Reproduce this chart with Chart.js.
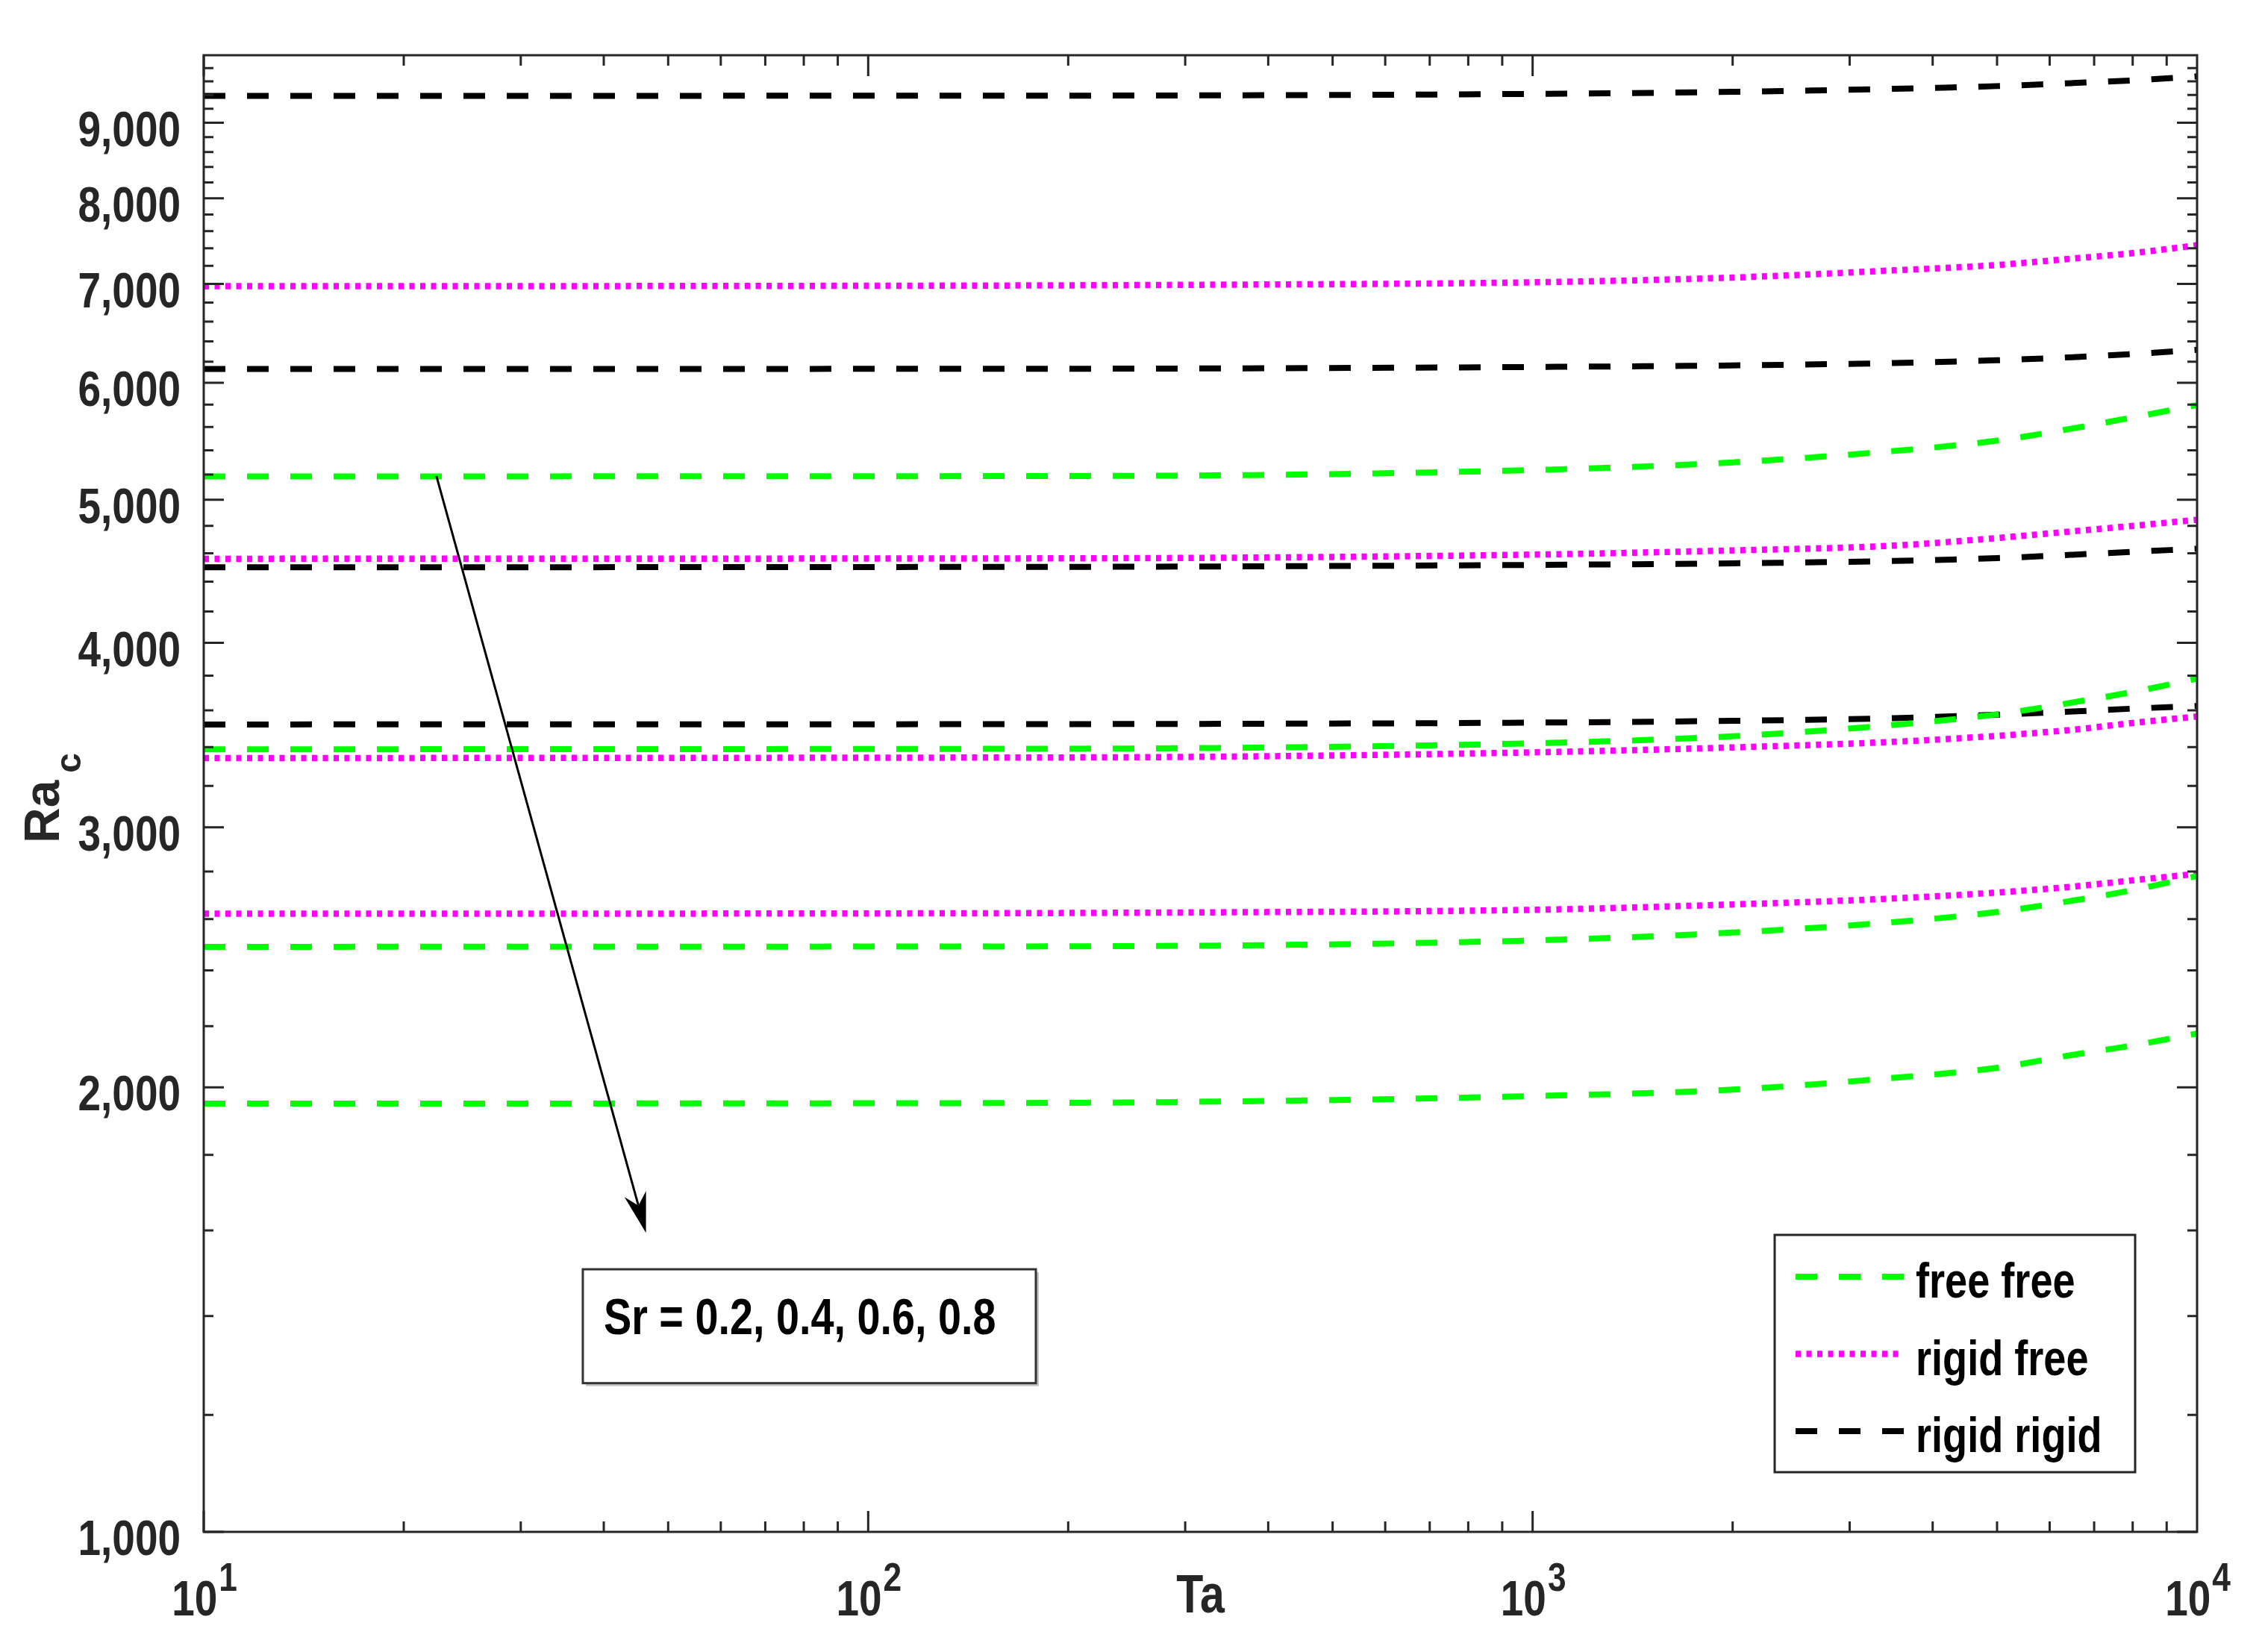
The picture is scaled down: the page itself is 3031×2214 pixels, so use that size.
<!DOCTYPE html>
<html>
<head>
<meta charset="utf-8">
<title>Ra_c vs Ta</title>
<script src="https://cdn.jsdelivr.net/npm/chart.js@4.4.1/dist/chart.umd.min.js"></script>
<style>
  html, body { margin: 0; padding: 0; background: #fff; }
  #wrap { width: 3031px; height: 2214px; }
</style>
</head>
<body>
<div id="wrap"><canvas id="chart" width="3031" height="2214"></canvas></div>
<script>
// Ta sample points (x axis, log)
const taValues = [10, 100, 300, 1000, 2000, 3500, 5000, 6500, 8000, 10000];

// free free boundaries, Sr = 0.2, 0.4, 0.6, 0.8
const freeFree02 = [5185, 5187, 5192, 5237, 5300, 5395, 5483, 5588, 5685, 5795];
const freeFree04 = [3388, 3390, 3394, 3420, 3458, 3520, 3578, 3645, 3705, 3783];
const freeFree06 = [2490, 2491, 2494, 2515, 2546, 2588, 2629, 2676, 2720, 2781];
const freeFree08 = [1950, 1951, 1955, 1973, 1993, 2030, 2062, 2104, 2135, 2175];

// rigid free
const rigidFree02 = [6975, 6980, 6990, 7018, 7070, 7150, 7210, 7283, 7345, 7435];
const rigidFree04 = [4560, 4562, 4566, 4590, 4620, 4655, 4710, 4760, 4800, 4846];
const rigidFree06 = [3342, 3344, 3348, 3372, 3398, 3428, 3460, 3493, 3530, 3566];
const rigidFree08 = [2622, 2623, 2627, 2638, 2660, 2685, 2710, 2735, 2762, 2790];

// rigid rigid
const rigidRigid02 = [9385, 9388, 9392, 9415, 9445, 9490, 9530, 9575, 9615, 9675];
const rigidRigid04 = [6130, 6132, 6135, 6150, 6165, 6188, 6215, 6245, 6275, 6318];
const rigidRigid06 = [4500, 4502, 4505, 4517, 4528, 4545, 4565, 4589, 4610, 4632];
const rigidRigid08 = [3522, 3523, 3525, 3532, 3542, 3557, 3576, 3594, 3610, 3625];

// ticks
const yTickValues = [1000, 2000, 3000, 4000, 5000, 6000, 7000, 8000, 9000];
const yTickLabels = ['1,000', '2,000', '3,000', '4,000', '5,000', '6,000', '7,000', '8,000', '9,000'];
const xTickValues = [10, 100, 1000, 10000];
const xTickBase = '10';
const xTickExponents = ['1', '2', '3', '4'];

// annotation (data units)
const srText = 'Sr = 0.2, 0.4, 0.6, 0.8';
const arrowFrom = { x: 22.4, y: 5187 };
const arrowTo = { x: 46.3, y: 1594 };
const srBox = { x0: 37.2, x1: 178.8, yTop: 1506, yBottom: 1261 };

const AXIS_COLOR = '#262626';
const SX = 0.82; // the original text is squeezed sideways
const font = (size) => 'bold ' + size + 'px "Liberation Sans", Arial, sans-serif';

function textWidth(ctx, text, size) {
    ctx.font = font(size);
    return ctx.measureText(text).width * SX;
}

function drawText(ctx, text, x, y, size, align) {
    ctx.save();
    ctx.font = font(size);
    ctx.textAlign = align || 'left';
    ctx.textBaseline = 'alphabetic';
    ctx.translate(x, y);
    ctx.scale(SX, 1);
    ctx.fillText(text, 0, 0);
    ctx.restore();
}

const GREEN = { borderColor: '#00ff00', borderDash: [29, 29], borderWidth: 8 };
const MAGENTA = { borderColor: '#ff00ff', borderDash: [7, 7.5], borderWidth: 8.5 };
const BLACK = { borderColor: '#000000', borderDash: [29, 29], borderWidth: 8 };

function series(label, values, style) {
    return Object.assign({
        label: label,
        data: taValues.map((t, i) => ({ x: t, y: values[i] })),
        pointRadius: 0,
        fill: false,
        clip: 0,
        cubicInterpolationMode: 'monotone',
        borderCapStyle: 'butt'
    }, style);
}

const datasets = [
    series('free free', freeFree02, GREEN),
    series('free free', freeFree04, GREEN),
    series('free free', freeFree06, GREEN),
    series('free free', freeFree08, GREEN),
    series('rigid free', rigidFree02, MAGENTA),
    series('rigid free', rigidFree04, MAGENTA),
    series('rigid free', rigidFree06, MAGENTA),
    series('rigid free', rigidFree08, MAGENTA),
    series('rigid rigid', rigidRigid02, BLACK),
    series('rigid rigid', rigidRigid04, BLACK),
    series('rigid rigid', rigidRigid06, BLACK),
    series('rigid rigid', rigidRigid08, BLACK)
];

// box + inward tick marks on all four sides
const frameAndTicks = {
    id: 'frameAndTicks',
    afterDatasetsDraw(chart) {
        const { ctx, chartArea: a, scales: { x, y } } = chart;
        ctx.save();
        ctx.strokeStyle = AXIS_COLOR;
        ctx.lineWidth = 3;
        ctx.beginPath();
        for (let d = 1000; d < 10000; d += 1000) {
            for (let s = 0; s < 1000; s += 200) {
                const py = y.getPixelForValue(d + s);
                const len = s === 0 ? 27 : 13;
                ctx.moveTo(a.left, py); ctx.lineTo(a.left + len, py);
                ctx.moveTo(a.right, py); ctx.lineTo(a.right - len, py);
            }
        }
        for (let d = 10; d < 10000; d *= 10) {
            for (let m = 1; m < 10; m++) {
                const px = x.getPixelForValue(d * m);
                const len = m === 1 ? 28 : 14;
                ctx.moveTo(px, a.bottom); ctx.lineTo(px, a.bottom - len);
                ctx.moveTo(px, a.top); ctx.lineTo(px, a.top + len);
            }
        }
        ctx.stroke();
        ctx.strokeRect(a.left, a.top, a.right - a.left, a.bottom - a.top);
        ctx.restore();
    }
};

// tick labels, axis titles, legend, Sr note
const overlay = {
    id: 'overlay',
    afterDraw(chart) {
        const { ctx, chartArea: a, scales: { x, y } } = chart;
        ctx.save();
        ctx.fillStyle = AXIS_COLOR;

        // y tick labels
        yTickValues.forEach((v, i) => {
            drawText(ctx, yTickLabels[i], a.left - 31, y.getPixelForValue(v) + 31, 67, 'right');
        });

        // x tick labels 10^n
        xTickValues.forEach((v, i) => {
            const px = x.getPixelForValue(v);
            const wb = textWidth(ctx, xTickBase, 67);
            const we = textWidth(ctx, xTickExponents[i], 54);
            const left = px - (wb + we) / 2;
            drawText(ctx, xTickBase, left, a.bottom + 112, 67);
            drawText(ctx, xTickExponents[i], left + wb + 2, a.bottom + 79, 54);
        });

        // x title
        drawText(ctx, 'Ta', (a.left + a.right) / 2, a.bottom + 108, 72, 'center');

        // y title Ra_c (rotated)
        ctx.font = font(66);
        const wRa = ctx.measureText('Ra').width;
        ctx.font = font(48);
        const wc = ctx.measureText('c').width;
        const total = wRa + 10 + wc;
        ctx.save();
        ctx.translate(79, (a.top + a.bottom) / 2 + 6 + total / 2);
        ctx.rotate(-Math.PI / 2);
        ctx.textAlign = 'left';
        ctx.textBaseline = 'alphabetic';
        ctx.font = font(66);
        ctx.fillText('Ra', 0, 0);
        ctx.font = font(48);
        ctx.fillText('c', wRa + 10, 29);
        ctx.restore();

        // arrow
        const x0 = x.getPixelForValue(arrowFrom.x), y0 = y.getPixelForValue(arrowFrom.y);
        const x1 = x.getPixelForValue(arrowTo.x), y1 = y.getPixelForValue(arrowTo.y);
        const len = Math.hypot(x1 - x0, y1 - y0);
        const ux = (x1 - x0) / len, uy = (y1 - y0) / len;
        const headLen = 54, headHalf = 15, notch = 38;
        ctx.strokeStyle = '#000';
        ctx.lineWidth = 3;
        ctx.beginPath();
        ctx.moveTo(x0, y0);
        ctx.lineTo(x1 - ux * notch, y1 - uy * notch);
        ctx.stroke();
        ctx.fillStyle = '#000';
        ctx.beginPath();
        ctx.moveTo(x1, y1);
        ctx.lineTo(x1 - ux * headLen - uy * headHalf, y1 - uy * headLen + ux * headHalf);
        ctx.lineTo(x1 - ux * notch, y1 - uy * notch);
        ctx.lineTo(x1 - ux * headLen + uy * headHalf, y1 - uy * headLen - ux * headHalf);
        ctx.closePath();
        ctx.fill();

        // Sr box
        const bx0 = x.getPixelForValue(srBox.x0), bx1 = x.getPixelForValue(srBox.x1);
        const by0 = y.getPixelForValue(srBox.yTop), by1 = y.getPixelForValue(srBox.yBottom);
        ctx.fillStyle = '#c4c4c4';
        ctx.fillRect(bx0 + 4, by0 + 4, bx1 - bx0, by1 - by0);
        ctx.fillStyle = '#fff';
        ctx.fillRect(bx0, by0, bx1 - bx0, by1 - by0);
        ctx.strokeStyle = '#333';
        ctx.lineWidth = 3;
        ctx.strokeRect(bx0, by0, bx1 - bx0, by1 - by0);
        ctx.fillStyle = '#000';
        drawText(ctx, srText, bx0 + 28, by0 + 87, 68);

        // legend, one entry per boundary type
        const seen = [];
        chart.data.datasets.forEach(ds => {
            if (!seen.find(s => s.label === ds.label)) seen.push(ds);
        });
        const lx0 = a.right - 566, lx1 = a.right - 83;
        const ly0 = a.bottom - 398, ly1 = a.bottom - 80;
        ctx.fillStyle = '#fff';
        ctx.fillRect(lx0, ly0, lx1 - lx0, ly1 - ly0);
        ctx.strokeStyle = AXIS_COLOR;
        ctx.lineWidth = 3;
        ctx.strokeRect(lx0, ly0, lx1 - lx0, ly1 - ly0);
        seen.forEach((ds, i) => {
            const ly = ly0 + 56 + i * 103.5;
            ctx.save();
            ctx.strokeStyle = ds.borderColor;
            ctx.lineWidth = ds.borderWidth;
            ctx.setLineDash(ds.borderDash);
            ctx.beginPath();
            ctx.moveTo(lx0 + 28, ly);
            ctx.lineTo(lx0 + 173, ly);
            ctx.stroke();
            ctx.restore();
            ctx.fillStyle = '#000';
            drawText(ctx, ds.label, lx0 + 189, ly + 28, 66);
        });
        ctx.restore();
    }
};

new Chart(document.getElementById('chart'), {
    type: 'line',
    data: { datasets: datasets },
    options: {
        responsive: false,
        animation: false,
        devicePixelRatio: 1,
        layout: { padding: { left: 273, right: 87, top: 74, bottom: 161 } },
        plugins: { legend: { display: false }, tooltip: { enabled: false } },
        scales: {
            x: { type: 'logarithmic', min: 10, max: 10000, display: false },
            y: { type: 'logarithmic', min: 1000, max: 10000, display: false }
        }
    },
    plugins: [frameAndTicks, overlay]
});
</script>
</body>
</html>
